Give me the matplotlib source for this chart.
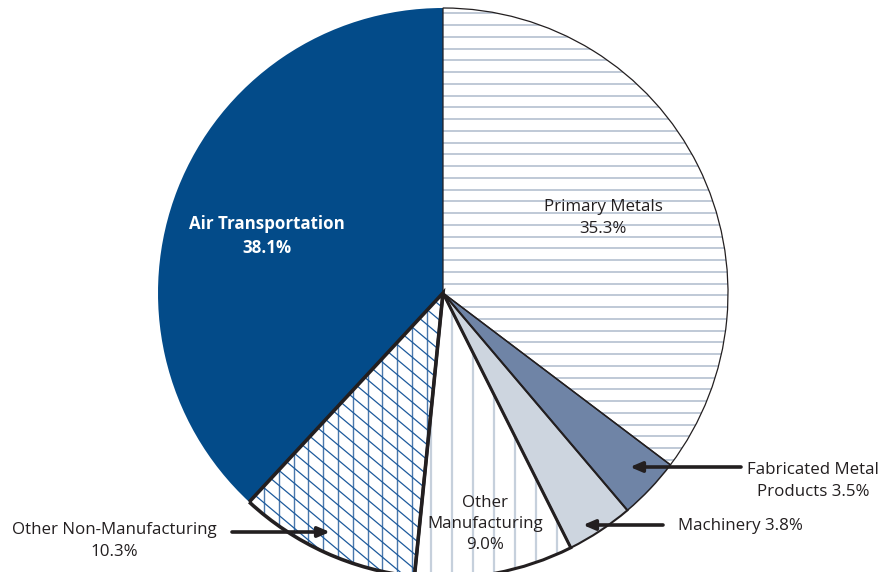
import numpy as np
import matplotlib.pyplot as plt
from matplotlib.collections import LineCollection

# =========================
# DATA
# =========================
categories = ["Primary Metals", "Fabricated Metal Products", "Machinery",
              "Other Manufacturing", "Other Non-Manufacturing", "Air Transportation"]
shares = [35.3, 3.5, 3.8, 9.0, 10.3, 38.1]

# =========================
# STYLE
# =========================
face_colors = ["white", "#6f84a6", "#cdd5df", "white", "white", "#034b89"]
edge_widths = [0.9, 1.1, 1.5, 2.2, 2.6, 0.0]
TEXT = "#231f20"
PX = 285.0          # pixels per unit radius
CX, CY = 443, 293   # pie centre in pixels

plt.rcParams["font.family"] = ["Open Sans", "DejaVu Sans"]

fig = plt.figure(figsize=(8.87, 5.72), dpi=100)
ax = fig.add_axes([0, 0, 1, 1])


def px(x, y):
    # pixel position -> data coords
    return (x - CX) / PX, (CY - y) / PX


def add_hatch(wedge, segs, color, lw):
    lc = LineCollection(segs, colors=color, linewidths=lw, zorder=2)
    ax.add_collection(lc)
    lc.set_clip_path(wedge)


wedges, _ = ax.pie(shares, startangle=90, counterclock=False, colors=face_colors,
                   wedgeprops=dict(linewidth=0))

# horizontal lines - Primary Metals
ys = [(CY - (13.3 + k * 11.75)) / PX for k in range(0, 50)]
add_hatch(wedges[0], [[(-1.2, y), (1.2, y)] for y in ys], "#b4c0d0", 1.2)

# vertical lines - Other Manufacturing
xs = [(451.7 + k * 21.0 - CX) / PX for k in range(-12, 12)]
add_hatch(wedges[3], [[(x, -1.2), (x, 1.2)] for x in xs], "#c6d0dc", 1.6)

# cross hatch - Other Non-Manufacturing
xs = [(264.0 + k * 14.8 - CX) / PX for k in range(-10, 20)]
add_hatch(wedges[4], [[(x, -1.2), (x, 1.2)] for x in xs], "#4a78ad", 1.0)
slope = np.tan(np.radians(40))
cs = [k * 15.0 / PX for k in range(-200, 60)]
add_hatch(wedges[4], [[(-1.5, -slope * -1.5 + c), (1.5, -slope * 1.5 + c)] for c in cs],
          "#1d5a9c", 0.9)

# outlines on top
edges, _ = ax.pie(shares, startangle=90, counterclock=False, colors=["none"] * 6,
                  wedgeprops=dict(edgecolor=TEXT))
for w, lw in zip(edges, edge_widths):
    w.set_linewidth(lw)
    w.set_zorder(3)
    if lw == 0:
        w.set_edgecolor("none")

ax.set_aspect("auto")
ax.set_xlim(-CX / PX, (887 - CX) / PX)
ax.set_ylim(-(572 - CY) / PX, CY / PX)
ax.axis("off")

# =========================
# LABELS
# =========================
fs = 12.2
ls = 1.45
ax.text(*px(267, 236), "Air Transportation\n38.1%", color="white", fontsize=fs,
        fontweight="bold", ha="center", va="center", linespacing=ls, zorder=5)
ax.text(*px(603, 218), "Primary Metals\n35.3%", color=TEXT, fontsize=fs,
        ha="center", va="center", linespacing=ls, zorder=5)
ax.text(*px(485, 524), "Other\nManufacturing\n9.0%", color=TEXT, fontsize=fs,
        ha="center", va="center", linespacing=ls, zorder=5)
ax.text(*px(114, 541), "Other Non-Manufacturing\n10.3%", color=TEXT, fontsize=fs,
        ha="center", va="center", linespacing=ls, zorder=5)
ax.text(*px(813, 481), "Fabricated Metal\nProducts 3.5%", color=TEXT, fontsize=fs,
        ha="center", va="center", linespacing=ls, zorder=5)
ax.text(*px(740, 526), "Machinery 3.8%", color=TEXT, fontsize=fs,
        ha="center", va="center", zorder=5)

arrow = dict(arrowstyle="-|>,head_length=0.7,head_width=0.3", color=TEXT, lw=2.6,
             shrinkA=0, shrinkB=0)
ax.annotate("", xy=px(330, 532), xytext=px(232, 532), arrowprops=arrow, zorder=6)
ax.annotate("", xy=px(630, 467), xytext=px(741, 467), arrowprops=arrow, zorder=6)
ax.annotate("", xy=px(583, 525), xytext=px(663, 525), arrowprops=arrow, zorder=6)

fig.savefig("out.png", dpi=100)
